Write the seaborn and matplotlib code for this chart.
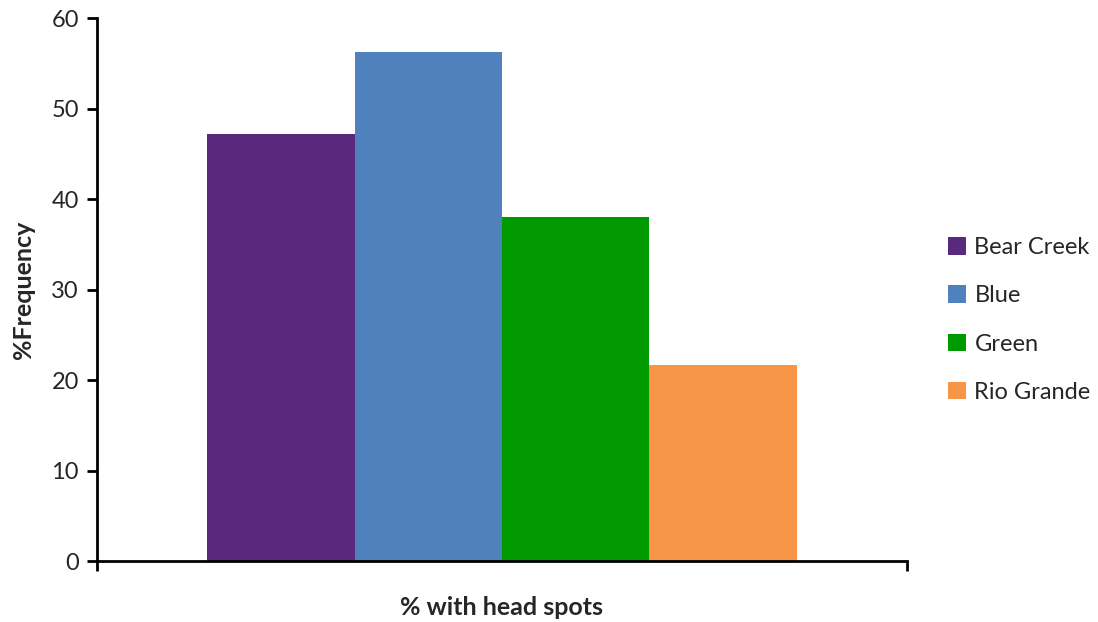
import matplotlib
matplotlib.use("Agg")
import matplotlib.pyplot as plt
import seaborn as sns
import pandas as pd

sites = ["Bear Creek", "Blue", "Green", "Rio Grande"]
values = [47.2, 56.3, 38.0, 21.7]
category = ["% with head spots"]
colors = ["#5A287D", "#4F81BD", "#009900", "#F79646"]

sns.set_style("white")
plt.rcParams['font.family'] = ['Lato', 'DejaVu Sans']

df = pd.DataFrame({"cat": [""] * len(sites), "site": sites, "value": values})

fig = plt.figure(figsize=(10.98, 6.22), dpi=100)
ax = fig.add_axes([0.0883, 0.098, 0.7377, 0.873])
sns.barplot(data=df, x="cat", y="value", hue="site", hue_order=sites,
            palette=colors, width=0.728, saturation=1, ax=ax, legend=True,
            linewidth=0, edgecolor="none")

ax.set_xlim(-0.5, 0.5)
ax.set_ylim(0, 60)
ax.set_yticks(range(0, 61, 10))
ax.set_xticks([-0.5, 0.5])
ax.set_xticklabels(["", ""])
ax.tick_params(axis="both", direction="out", length=7, width=2, color="black",
               labelsize=17, left=True, bottom=True, pad=6)
for s in ["top", "right"]:
    ax.spines[s].set_visible(False)
for s in ["left", "bottom"]:
    ax.spines[s].set_color("black")
    ax.spines[s].set_linewidth(2)
ax.set_ylabel("%Frequency", fontsize=18, fontweight="bold", labelpad=12)
ax.set_xlabel(category[0], fontsize=18, fontweight="bold", labelpad=12)

leg = ax.legend(loc="center left", bbox_to_anchor=(1.025, 0.444), frameon=False,
                fontsize=17, handlelength=0.75, handleheight=0.75,
                handletextpad=0.35, labelspacing=1.15)

fig.savefig("out.png", dpi=100)
